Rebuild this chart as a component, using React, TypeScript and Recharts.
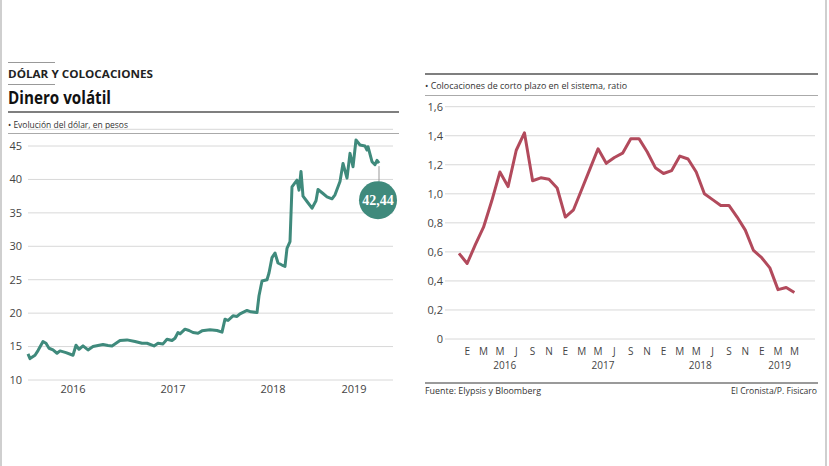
import React from "react";
import { LineChart, Line, XAxis, YAxis, CartesianGrid } from "recharts";

// Evolución del dólar, en pesos (fecha en años decimales)
const dolarFechas = [
  2016.05, 2016.07, 2016.12, 2016.15, 2016.2, 2016.23, 2016.26, 2016.3, 2016.34, 2016.37,
  2016.43, 2016.5, 2016.53, 2016.56, 2016.6, 2016.65, 2016.7, 2016.8, 2016.85, 2016.89,
  2016.93, 2016.97, 2017.04, 2017.12, 2017.19, 2017.24, 2017.31, 2017.35, 2017.4, 2017.44,
  2017.49, 2017.52, 2017.55, 2017.57, 2017.62, 2017.66, 2017.7, 2017.75, 2017.79, 2017.87,
  2017.94, 2017.99, 2018.02, 2018.05, 2018.1, 2018.14, 2018.17, 2018.24, 2018.28, 2018.34,
  2018.36, 2018.39, 2018.44, 2018.46, 2018.49, 2018.52, 2018.55, 2018.59, 2018.62, 2018.64,
  2018.67, 2018.69, 2018.71, 2018.74, 2018.76, 2018.78, 2018.8, 2018.84, 2018.89, 2018.93,
  2018.95, 2019.0, 2019.04, 2019.09, 2019.12, 2019.17, 2019.2, 2019.24, 2019.27, 2019.3,
  2019.33, 2019.37, 2019.42, 2019.44, 2019.45, 2019.49, 2019.52, 2019.54, 2019.56,
];
const dolarValores = [
  13.9, 13.2, 13.7, 14.4, 15.75, 15.5, 14.75, 14.5, 14.0, 14.35,
  14.1, 13.7, 15.2, 14.6, 15.1, 14.5, 15.0, 15.3, 15.15, 15.1,
  15.5, 15.9, 16.0, 15.75, 15.5, 15.5, 15.1, 15.5, 15.4, 16.1,
  15.9, 16.25, 17.1, 16.9, 17.6, 17.4, 17.1, 17.0, 17.35, 17.5,
  17.4, 17.15, 19.1, 18.9, 19.6, 19.5, 19.9, 20.4, 20.2, 20.1,
  22.6, 24.8, 25.0, 26.0, 28.3, 29.0, 27.5, 27.2, 27.0, 29.7,
  30.7, 38.9, 39.3, 39.9, 38.4, 41.2, 37.5, 36.7, 35.7, 36.8,
  38.5, 37.9, 37.4, 37.1, 37.7, 39.7, 42.4, 40.2, 43.9, 41.9,
  45.9, 45.15, 45.0, 44.4, 44.9, 42.65, 42.2, 42.85, 42.44,
];
const dolarTicksY = [10, 15, 20, 25, 30, 35, 40, 45];
const dolarTicksX = [2016.5, 2017.5, 2018.5, 2019.31];
const dolarAnios = ["2016", "2017", "2018", "2019"];

// Colocaciones de corto plazo, ratio mensual (dic 2015 a may 2019)
const colocMesInicio = -1; // 0 = enero 2016
const colocValores = [
  0.59, 0.52, 0.65, 0.77, 0.95, 1.15, 1.05, 1.3, 1.42, 1.09, 1.11, 1.1, 1.04,
  0.84, 0.89, 1.03, 1.17, 1.31, 1.21, 1.25, 1.28, 1.38, 1.38, 1.29, 1.18,
  1.14, 1.16, 1.26, 1.24, 1.15, 1.0, 0.96, 0.92, 0.92, 0.84, 0.75, 0.61,
  0.56, 0.49, 0.34, 0.355, 0.32,
];
const colocTicksX = [0, 2, 4, 6, 8, 10, 12, 14, 16, 18, 20, 22, 24, 26, 28, 30, 32, 34, 36, 38, 40];
const colocMeses = ["E", "M", "M", "J", "S", "N", "E", "M", "M", "J", "S", "N", "E", "M", "M", "J", "S", "N", "E", "M", "M"];
const colocTicksAnio = [4.6, 16.6, 28.5, 38.2];
const colocAnios = ["2016", "2017", "2018", "2019"];
const colocTicksY = [0, 0.2, 0.4, 0.6, 0.8, 1.0, 1.2, 1.4, 1.6];

const TEAL = "#3f8a7c";
const RED = "#b24a5c";
const SANS = "'Open Sans', sans-serif";

const dolarData = dolarFechas.map((t, i) => ({ t, v: dolarValores[i] }));
const colocData = colocValores.map((v, i) => ({ m: colocMesInicio + i, v }));
const colocTicksTodos = [...colocTicksX, ...colocTicksAnio].sort((a, b) => a - b);

const coma = (v: number) => (v === 0 ? "0" : v.toFixed(1).replace(".", ","));

const tickStyle = { fontSize: 11, fill: "#444", fontFamily: SANS };

const UltimoDolar = (props: any) => {
  const { cx, cy, index, value } = props;
  if (index !== dolarValores.length - 1) return <g key={`d${index}`} />;
  return (
    <g key={`d${index}`}>
      <line x1={cx} y1={cy + 3} x2={cx} y2={cy + 20} stroke="#999" strokeWidth={1} />
      <circle cx={cx - 1} cy={cy + 37} r={19} fill={TEAL} />
      <text
        x={cx - 1}
        y={cy + 42}
        textAnchor="middle"
        fill="#fff"
        fontFamily="'Liberation Serif', serif"
        fontWeight="bold"
        fontSize={14}
      >
        {String(value).replace(".", ",")}
      </text>
    </g>
  );
};

// meses en la primera fila, años debajo
const ColocTick = (props: any) => {
  const { x, y, payload } = props;
  const v = payload.value;
  const iMes = colocTicksX.indexOf(v);
  const esMes = iMes >= 0;
  const label = esMes ? colocMeses[iMes] : colocAnios[colocTicksAnio.indexOf(v)];
  return (
    <text x={x} y={y + (esMes ? 0 : 14)} dy="0.71em" textAnchor="middle" {...tickStyle} fontSize={10}>
      {label}
    </text>
  );
};

const App: React.FC = () => {
  return (
    <div style={{ position: "absolute", left: 0, top: 0, width: 829, height: 466, background: "#fff", overflow: "hidden" }}>
      <svg width={829} height={466} style={{ position: "absolute", left: 0, top: 0 }}>
        <line x1={1} y1={0} x2={1} y2={466} stroke="#cfcfcf" strokeWidth={2} />
        <line x1={826} y1={0} x2={826} y2={466} stroke="#cfcfcf" strokeWidth={2} />
        <line x1={8} y1={62.5} x2={55} y2={62.5} stroke="#999" strokeWidth={1} />
        <line x1={8} y1={84.5} x2={55} y2={84.5} stroke="#999" strokeWidth={1} />
        <text x={8} y={78} fontFamily={SANS} fontWeight="bold" fontSize={11} fill="#222" textLength={145} lengthAdjust="spacingAndGlyphs">
          DÓLAR Y COLOCACIONES
        </text>
        <text x={8} y={104} fontFamily={SANS} fontWeight="bold" fontSize={17.5} fill="#111" textLength={103} lengthAdjust="spacingAndGlyphs">
          Dinero volátil
        </text>
        <line x1={8} y1={112} x2={399} y2={112} stroke="#555" strokeWidth={1.5} />
        <text x={8} y={128} fontFamily={SANS} fontSize={9.5} fill="#333" textLength={120} lengthAdjust="spacingAndGlyphs">
          • Evolución del dólar, en pesos
        </text>
        <line x1={8} y1={133.5} x2={399} y2={133.5} stroke="#aaa" strokeWidth={1} />

        <line x1={425} y1={74} x2={818} y2={74} stroke="#555" strokeWidth={1.5} />
        <text x={425} y={89} fontFamily={SANS} fontSize={9.5} fill="#333" textLength={202} lengthAdjust="spacingAndGlyphs">
          • Colocaciones de corto plazo en el sistema, ratio
        </text>
        <line x1={425} y1={95.5} x2={818} y2={95.5} stroke="#aaa" strokeWidth={1} />
        <line x1={425} y1={383} x2={818} y2={383} stroke="#9a9a9a" strokeWidth={2} />
        <text x={425} y={394} fontFamily={SANS} fontSize={9.5} fill="#333" textLength={116} lengthAdjust="spacingAndGlyphs">
          Fuente: Elypsis y Bloomberg
        </text>
        <text x={817} y={394} textAnchor="end" fontFamily={SANS} fontSize={9.5} fill="#333" textLength={86} lengthAdjust="spacingAndGlyphs">
          El Cronista/P. Fisicaro
        </text>
      </svg>

      <div style={{ position: "absolute", left: 0, top: 120 }}>
        <LineChart width={400} height={280} data={dolarData} margin={{ top: 9.3, right: 7, bottom: 0, left: 8 }}>
          <CartesianGrid vertical={false} stroke="#d8d8d8" />
          <XAxis
            type="number"
            dataKey="t"
            domain={[2016.05, 2019.7]}
            ticks={dolarTicksX}
            interval={0}
            tickFormatter={(v: number) => dolarAnios[dolarTicksX.indexOf(v)]}
            axisLine={false}
            tickLine={false}
            height={20}
            tickSize={0}
            tickMargin={5}
            tick={tickStyle}
          />
          <YAxis
            type="number"
            domain={[10, 47.5]}
            ticks={dolarTicksY}
            interval={0}
            width={20}
            axisLine={false}
            tickLine={false}
            tickSize={0}
            tickMargin={6}
            tick={tickStyle}
          />
          <Line
            dataKey="v"
            stroke={TEAL}
            strokeWidth={3}
            strokeLinejoin="round"
            dot={UltimoDolar}
            activeDot={false}
            isAnimationActive={false}
          />
        </LineChart>
      </div>

      <div style={{ position: "absolute", left: 410, top: 90 }}>
        <LineChart width={419} height={300} data={colocData} margin={{ top: 16.7, right: 14, bottom: 19, left: 0 }}>
          <CartesianGrid vertical={false} stroke="#d8d8d8" />
          <XAxis
            type="number"
            dataKey="m"
            domain={[-2.71, 42.52]}
            ticks={colocTicksTodos}
            interval={0}
            axisLine={false}
            tickLine={false}
            height={32}
            tickSize={0}
            tickMargin={9}
            tick={<ColocTick />}
          />
          <YAxis
            type="number"
            domain={[0, 1.6]}
            ticks={colocTicksY}
            interval={0}
            tickFormatter={coma}
            width={35}
            axisLine={false}
            tickLine={false}
            tickSize={0}
            tickMargin={2}
            tick={tickStyle}
          />
          <Line
            dataKey="v"
            stroke={RED}
            strokeWidth={3}
            strokeLinejoin="round"
            dot={false}
            activeDot={false}
            isAnimationActive={false}
          />
        </LineChart>
      </div>
    </div>
  );
};

export default App;
